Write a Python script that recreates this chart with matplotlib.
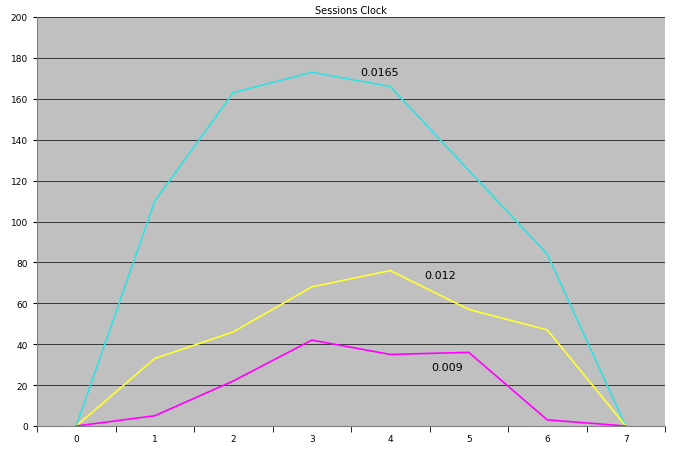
import matplotlib
matplotlib.use("Agg")
import matplotlib.pyplot as plt

x = [0, 1, 2, 3, 4, 5, 6, 7]
cyan = [0, 110, 163, 173, 166, 125, 84, 0]
yellow = [0, 33, 46, 68, 76, 57, 47, 0]
magenta = [0, 5, 22, 42, 35, 36, 3, 0]
labels = ["0.0165", "0.012", "0.009"]
label_pos = [(3.86, 173), (4.64, 74), (4.72, 29)]

fig = plt.figure(figsize=(6.75, 4.6), dpi=100)
ax = fig.add_axes([37/675, 1-427/460, 628/675, 409/460])
ax.set_facecolor("#C0C0C0")
ax.plot(x, cyan, color="#33E0E0", lw=1.2)
ax.plot(x, yellow, color="#FFFF33", lw=1.2)
ax.plot(x, magenta, color="#FF00FF", lw=1.2)
for t, (px, py) in zip(labels, label_pos):
    ax.text(px, py, t, fontsize=8, ha="center", va="center")
ax.set_xlim(-0.5, 7.5)
ax.set_ylim(0, 200)
ax.set_yticks(range(0, 201, 20))
ax.set_xticks(x)
ax.set_xticks([i + 0.5 for i in range(-1, 8)], minor=True)
ax.tick_params(axis="x", which="major", length=0, labelsize=6.5, pad=6)
ax.tick_params(axis="x", which="minor", length=4, direction="out")
ax.tick_params(axis="y", labelsize=6.5, length=3)
ax.grid(axis="y", color="#202020", lw=0.6)
ax.set_axisbelow(True)
for s in ["top", "right"]:
    ax.spines[s].set_visible(False)
for s in ["left", "bottom"]:
    ax.spines[s].set_color("#808080")
ax.set_title("Sessions Clock", fontsize=7, pad=3)
fig.savefig("out.png", dpi=100)
